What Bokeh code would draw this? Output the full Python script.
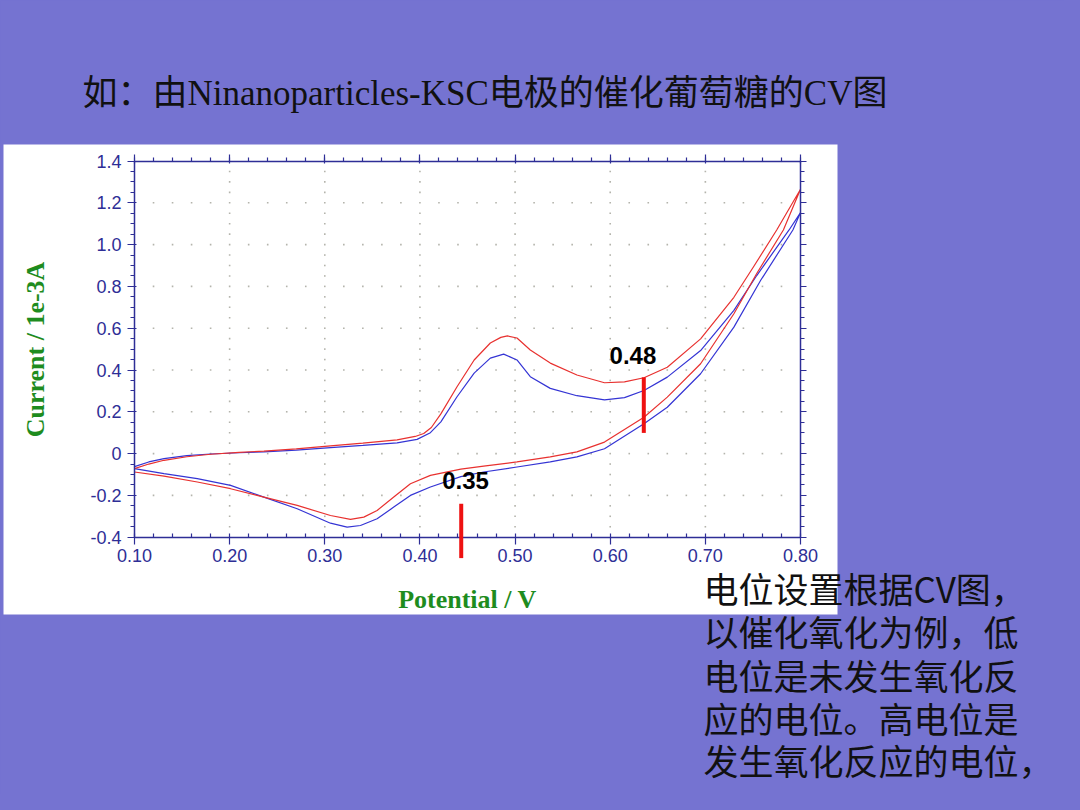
from bokeh.plotting import figure
from bokeh.models import (FixedTicker, Label, Arrow, BoxAnnotation,
                          Range1d, GlobalInlineStyleSheet, LinearAxis)
from bokeh.embed import file_html
from bokeh.resources import INLINE
import numpy as np

# ---------------- data ----------------
red_potential = [0.100, 0.115, 0.131, 0.155, 0.180, 0.210, 0.236, 0.270, 0.306, 0.340,
                 0.376, 0.395, 0.404, 0.412, 0.422, 0.439, 0.457, 0.474, 0.485, 0.492,
                 0.502, 0.516, 0.537, 0.565, 0.594, 0.615, 0.6355, 0.660, 0.695, 0.730,
                 0.7515, 0.775, 0.800,
                 0.782, 0.754, 0.730, 0.695, 0.660, 0.6355, 0.594, 0.565, 0.537,
                 0.502, 0.467, 0.443, 0.411, 0.390, 0.3725, 0.355, 0.341, 0.327, 0.306,
                 0.271, 0.236, 0.201, 0.166, 0.131, 0.100]
red_current = [-0.072, -0.050, -0.032, -0.015, -0.003, 0.006, 0.012, 0.023, 0.037, 0.050,
               0.066, 0.082, 0.096, 0.125, 0.190, 0.320, 0.448, 0.529, 0.556, 0.563,
               0.553, 0.496, 0.433, 0.376, 0.339, 0.343, 0.363, 0.413, 0.549, 0.748,
               0.900, 1.070, 1.265,
               1.070, 0.862, 0.669, 0.430, 0.270, 0.174, 0.055, 0.008, -0.016,
               -0.040, -0.060, -0.074, -0.104, -0.144, -0.208, -0.272, -0.304, -0.315, -0.296,
               -0.248, -0.208, -0.168, -0.136, -0.108, -0.088]

blue_potential = [0.100, 0.115, 0.131, 0.155, 0.180, 0.210, 0.236, 0.270, 0.306, 0.340,
                  0.376, 0.397, 0.411, 0.422, 0.439, 0.457, 0.474, 0.488, 0.502, 0.516,
                  0.537, 0.565, 0.594, 0.615, 0.6355, 0.660, 0.695, 0.730, 0.754, 0.788,
                  0.800,
                  0.792, 0.758, 0.730, 0.695, 0.660, 0.6355, 0.594, 0.565, 0.537, 0.502,
                  0.467, 0.443, 0.411, 0.390, 0.3725, 0.355, 0.3375, 0.3235, 0.306, 0.271,
                  0.236, 0.201, 0.166, 0.131, 0.100]
blue_current = [-0.062, -0.040, -0.024, -0.010, -0.002, 0.004, 0.008, 0.017, 0.029, 0.039,
                0.051, 0.068, 0.100, 0.152, 0.272, 0.385, 0.457, 0.476, 0.448, 0.368,
                0.312, 0.277, 0.257, 0.268, 0.302, 0.366, 0.493, 0.685, 0.852, 1.070,
                1.153,
                1.070, 0.828, 0.605, 0.382, 0.222, 0.143, 0.023, -0.016, -0.040, -0.064,
                -0.088, -0.110, -0.160, -0.200, -0.256, -0.312, -0.344, -0.352, -0.333, -0.264,
                -0.208, -0.152, -0.120, -0.096, -0.072]

x_ticks = [0.10, 0.20, 0.30, 0.40, 0.50, 0.60, 0.70, 0.80]
x_tick_labels = ["0.10", "0.20", "0.30", "0.40", "0.50", "0.60", "0.70", "0.80"]
y_ticks = [-0.4, -0.2, 0.0, 0.2, 0.4, 0.6, 0.8, 1.0, 1.2, 1.4]
y_tick_labels = ["-0.4", "-0.2", "0", "0.2", "0.4", "0.6", "0.8", "1.0", "1.2", "1.4"]
x_minor_step = 0.02
y_minor_step = 0.05

# marked potentials (red bars) and their labels
mark_x = [0.6353, 0.4434]
mark_y_top = [0.365, -0.24]
mark_y_bottom = [0.099, -0.50]
mark_text = ["0.48", "0.35"]
mark_text_x = [0.5993, 0.4234]
mark_text_y = [0.469, -0.129]

title_text = "如：由Ninanoparticles-KSC电极的催化葡萄糖的CV图"
note_lines = ["电位设置根据CV图，", "以催化氧化为例，低", "电位是未发生氧化反",
              "应的电位。高电位是", "发生氧化反应的电位，"]

# ---------------- layout / style ----------------
BG = "#7573D1"
NAVY = "#2E2E96"
GREEN = "#1E8C1E"
RED = "#E8312F"
BLUE = "#3434D4"
GRID = "#B4B4AC"

W, H = 1064, 794
# pixel position of the chart box inside the slide (canvas coordinates)
BOX_L, BOX_R, BOX_T, BOX_B = 134.0, 800.0, 160.5, 536.7
X0, X1 = x_ticks[0], x_ticks[-1]
Y0, Y1 = y_ticks[0], y_ticks[-1]
kx = (BOX_R - BOX_L) / (X1 - X0)
ky = (BOX_B - BOX_T) / (Y1 - Y0)
xr = Range1d(X0 - BOX_L / kx, X0 + (W - BOX_L) / kx)
yr = Range1d(Y1 - (H - BOX_T) / ky, Y1 + BOX_T / ky)

p = figure(width=W, height=H, output_backend="svg", toolbar_location=None,
           x_range=xr, y_range=yr,
           min_border_left=0, min_border_right=0, min_border_top=0, min_border_bottom=0,
           border_fill_color=BG, background_fill_color=BG,
           outline_line_color=None)
p.title.visible = False
p.stylesheets = [GlobalInlineStyleSheet(css="html, body { background-color: %s; }" % BG)]
p.xgrid.visible = False
p.ygrid.visible = False

# white panel behind the chart (slide screenshot)
p.add_layout(BoxAnnotation(left=3, right=837, top=144, bottom=614,
                           left_units="canvas", right_units="canvas",
                           top_units="canvas", bottom_units="canvas",
                           fill_color="white", fill_alpha=1.0, line_color=None,
                           level="image"))

x_minor = list(np.round(np.arange(X0, X1 + 1e-9, x_minor_step), 4))
y_minor = list(np.round(np.arange(Y0, Y1 + 1e-9, y_minor_step), 4))
xt = FixedTicker(ticks=x_ticks, minor_ticks=x_minor)
yt = FixedTicker(ticks=y_ticks, minor_ticks=y_minor)

# dotted grid: dots along major lines at minor-tick spacing
gx, gy = [], []
for xv in x_ticks[1:-1]:
    for yv in y_minor[1:-1]:
        gx.append(xv); gy.append(yv)
for yv in y_ticks[1:-1]:
    for xv in x_minor[1:-1]:
        if xv not in x_ticks:
            gx.append(xv); gy.append(yv)
p.scatter(gx, gy, marker="square", size=1.6, fill_color=GRID, line_color=None)

def style_axis(ax, labels):
    ax.axis_line_color = NAVY
    ax.axis_line_width = 1.5
    ax.major_tick_line_color = NAVY
    ax.minor_tick_line_color = NAVY
    ax.major_tick_line_width = 1.2
    ax.minor_tick_line_width = 1.2
    ax.major_label_text_color = NAVY
    ax.major_label_text_font = "Liberation Sans"
    ax.major_label_text_font_size = "18px"
    ax.major_label_overrides = labels

bx = p.xaxis[0]
bx.ticker = xt
bx.fixed_location = Y0
bx.bounds = (X0, X1)
style_axis(bx, {t: l for t, l in zip(x_ticks, x_tick_labels)})
bx.major_tick_out, bx.major_tick_in = 7, 0
bx.minor_tick_out, bx.minor_tick_in = 0, 4
bx.major_label_standoff = 5
bx.axis_label = "Potential / V"
bx.axis_label_text_font = "Liberation Serif"
bx.axis_label_text_font_style = "bold"
bx.axis_label_text_font_size = "26px"
bx.axis_label_text_color = GREEN
bx.axis_label_standoff = 19

ly = p.yaxis[0]
ly.ticker = yt
ly.fixed_location = X0
ly.bounds = (Y0, Y1)
style_axis(ly, {t: l for t, l in zip(y_ticks, y_tick_labels)})
ly.major_tick_out, ly.major_tick_in = 7, 2
ly.minor_tick_out, ly.minor_tick_in = 4, 0
ly.major_label_standoff = 6
ly.axis_label = "Current / 1e-3A"
ly.axis_label_text_font = "Liberation Serif"
ly.axis_label_text_font_style = "bold"
ly.axis_label_text_font_size = "26px"
ly.axis_label_text_color = GREEN
ly.axis_label_standoff = 37

tx = LinearAxis(ticker=xt, fixed_location=Y1, bounds=(X0, X1))
style_axis(tx, {t: "" for t in x_ticks})
tx.major_tick_out, tx.major_tick_in = 7, 2
tx.minor_tick_out, tx.minor_tick_in = 4, 0
p.add_layout(tx, "above")

ry = LinearAxis(ticker=yt, fixed_location=X1, bounds=(Y0, Y1))
style_axis(ry, {t: "" for t in y_ticks})
ry.major_tick_out, ry.major_tick_in = 6, 0
ry.minor_tick_out, ry.minor_tick_in = 4, 0
p.add_layout(ry, "right")

# curves
p.line(blue_potential, blue_current, line_color=BLUE, line_width=1.2)
p.line(red_potential, red_current, line_color=RED, line_width=1.2)

# red marker bars and labels
for i in range(len(mark_x)):
    p.add_layout(Arrow(x_start=mark_x[i], y_start=mark_y_top[i],
                       x_end=mark_x[i], y_end=mark_y_bottom[i],
                       end=None, line_color="#EE1111", line_width=4))
    p.add_layout(Label(x=mark_text_x[i], y=mark_text_y[i], text=mark_text[i],
                       text_font="Liberation Sans", text_font_style="bold",
                       text_font_size="24px", text_color="black",
                       text_baseline="middle", text_align="left"))

# slide title and note text
p.add_layout(Label(x=82, y=93, x_units="canvas", y_units="canvas", text=title_text,
                   text_font="Liberation Serif, Noto Sans CJK SC",
                   text_font_size="35px", text_color="#111111",
                   text_baseline="middle", text_align="left"))
note_y = [587, 630, 674, 717, 759]
for line, yy in zip(note_lines, note_y):
    p.add_layout(Label(x=703, y=yy, x_units="canvas", y_units="canvas", text=line,
                       text_font="Noto Sans CJK SC", text_font_size="35px",
                       text_color="#111111", text_baseline="middle", text_align="left"))

open("out.html", "w").write(file_html(p, INLINE))
